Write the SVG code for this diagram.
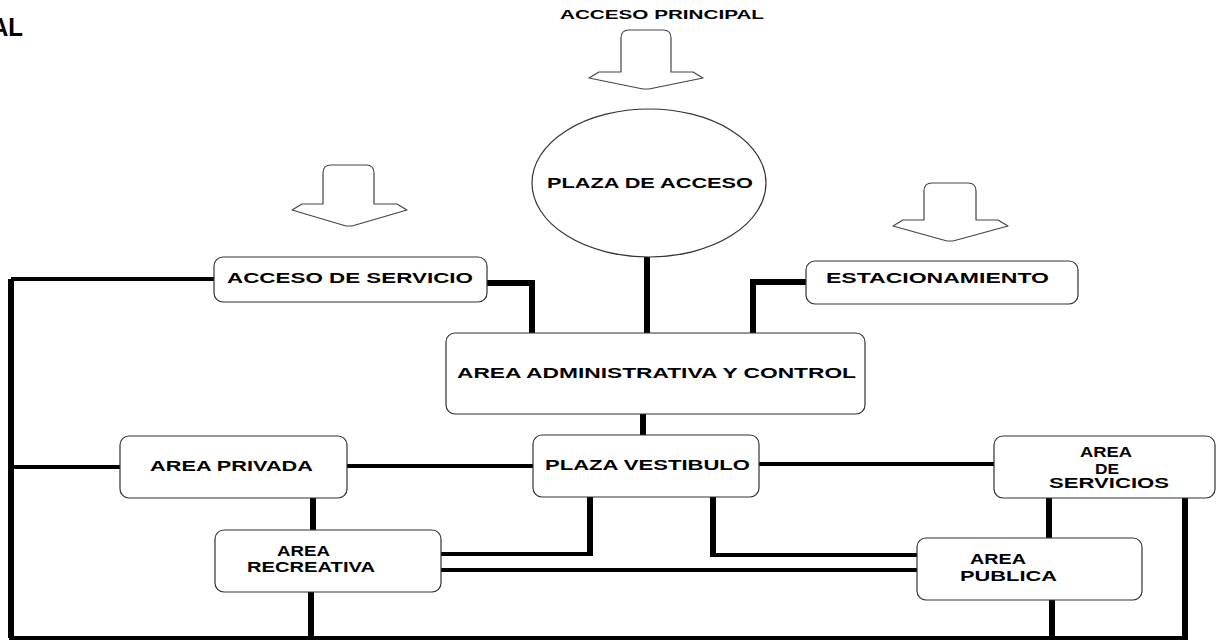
<svg xmlns="http://www.w3.org/2000/svg" width="1217" height="641" viewBox="0 0 1217 641">
<style>
.box{fill:#fff;stroke:#333;stroke-width:1.2}
.arr{fill:#fff;stroke:#444;stroke-width:1.2;stroke-linejoin:round}
.t{font-family:"Liberation Sans",Arial,sans-serif;font-weight:bold;font-size:14px;fill:#000}
.v{fill:none;stroke:#000;stroke-width:6;stroke-linejoin:miter}
.h{fill:none;stroke:#000;stroke-width:4}
</style>
<rect width="1217" height="641" fill="#fff"/>
<text class="t" x="-9" y="36" style="font-size:25px" textLength="32" lengthAdjust="spacingAndGlyphs">AL</text>
<g id="acceso-principal">
<text class="t" x="560" y="19" style="font-size:12.5px" textLength="204" lengthAdjust="spacingAndGlyphs">ACCESO PRINCIPAL</text>
<path class="arr" d="M621 72 V38 Q621 30 629 30 H663 Q671 30 671 38 V72 H693 L703 78 L649 89 L643 89 L589 78 L599 72 Z"/>
</g>
<g id="arrow-servicio">
<path class="arr" d="M323 204 V173 Q323 165 331 165 H366 Q374 165 374 173 V204 H397 L407 210 L352 226 L346 226 L292 210 L302 204 Z"/>
</g>
<g id="arrow-estacionamiento">
<path class="arr" d="M924 220 V191 Q924 183 932 183 H968 Q976 183 976 191 V220 H998 L1008 226 L953 241 L947 241 L893 226 L903 220 Z"/>
</g>
<g id="connectors">
<path class="v" d="M11 279 V638"/>
<path class="h" d="M11 279 H214"/>
<path class="h" d="M9 638 H1188"/>
<path class="v" d="M487 283 H532 V333"/>
<path class="h" d="M487 283 H532"/>
<path class="v" d="M647 257 V333"/>
<path class="v" d="M806 282 H753 V333"/>
<path class="h" d="M806 282 H753"/>
<path class="v" d="M643 414 V435"/>
<path class="h" d="M11 467 H120"/>
<path class="h" d="M347 466 H533"/>
<path class="h" d="M759 464 H994"/>
<path class="v" d="M313 498 V530"/>
<path class="v" d="M590 497 V554"/>
<path class="h" d="M593 554 H441"/>
<path class="v" d="M713 497 V555"/>
<path class="h" d="M710 555 H917"/>
<path class="h" d="M441 570 H917"/>
<path class="v" d="M311 592 V638"/>
<path class="v" d="M1049 498 V538"/>
<path class="v" d="M1052 600 V638"/>
<path class="v" d="M1185 497 V640"/>
</g>
<g id="plaza-acceso">
<ellipse class="box" cx="649" cy="183" rx="117" ry="74"/>
<text class="t" x="547" y="188" textLength="206" lengthAdjust="spacingAndGlyphs">PLAZA DE ACCESO</text>
</g>
<g id="acceso-servicio">
<rect class="box" x="214" y="257" width="273" height="45" rx="9"/>
<text class="t" x="227" y="283" textLength="246" lengthAdjust="spacingAndGlyphs">ACCESO DE SERVICIO</text>
</g>
<g id="estacionamiento">
<rect class="box" x="806" y="261" width="272" height="43" rx="9"/>
<text class="t" x="826" y="283" textLength="223" lengthAdjust="spacingAndGlyphs">ESTACIONAMIENTO</text>
</g>
<g id="area-administrativa">
<rect class="box" x="446" y="333" width="419" height="81" rx="9"/>
<text class="t" x="457" y="378" textLength="399" lengthAdjust="spacingAndGlyphs">AREA ADMINISTRATIVA Y CONTROL</text>
</g>
<g id="area-privada">
<rect class="box" x="120" y="436" width="227" height="62" rx="9"/>
<text class="t" x="150" y="471" textLength="163" lengthAdjust="spacingAndGlyphs">AREA PRIVADA</text>
</g>
<g id="plaza-vestibulo">
<rect class="box" x="533" y="435" width="226" height="62" rx="9"/>
<text class="t" x="545" y="470" textLength="205" lengthAdjust="spacingAndGlyphs">PLAZA VESTIBULO</text>
</g>
<g id="area-servicios">
<rect class="box" x="994" y="436" width="221" height="62" rx="9"/>
<text class="t" x="1080" y="457" textLength="52" lengthAdjust="spacingAndGlyphs">AREA</text>
<text class="t" x="1095" y="474" textLength="24" lengthAdjust="spacingAndGlyphs">DE</text>
<text class="t" x="1049" y="488" textLength="120" lengthAdjust="spacingAndGlyphs">SERVICIOS</text>
</g>
<g id="area-recreativa">
<rect class="box" x="215" y="530" width="226" height="62" rx="9"/>
<text class="t" x="277" y="556" textLength="53" lengthAdjust="spacingAndGlyphs">AREA</text>
<text class="t" x="247" y="572" textLength="128" lengthAdjust="spacingAndGlyphs">RECREATIVA</text>
</g>
<g id="area-publica">
<rect class="box" x="917" y="538" width="225" height="62" rx="9"/>
<text class="t" x="970" y="564" textLength="56" lengthAdjust="spacingAndGlyphs">AREA</text>
<text class="t" x="960" y="581" textLength="97" lengthAdjust="spacingAndGlyphs">PUBLICA</text>
</g>
</svg>
